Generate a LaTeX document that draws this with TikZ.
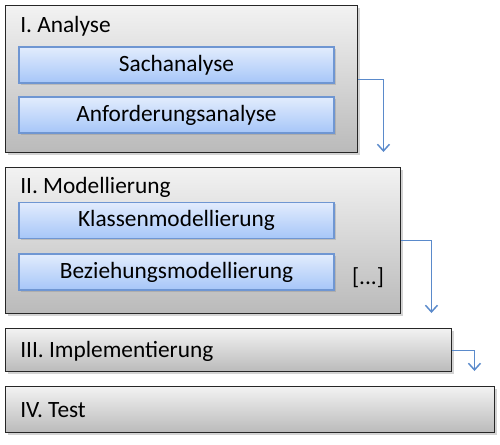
\documentclass[tikz,border=0pt]{standalone}
\usepackage{fontspec}
\setmainfont{Carlito}
\usetikzlibrary{positioning,arrows.meta,calc,shadows}

\definecolor{phaseborder}{HTML}{262626}
\definecolor{phasetop}{HTML}{F2F2F2}
\definecolor{phasebottom}{HTML}{BABABA}
\definecolor{taskborder}{HTML}{6F96D2}
\definecolor{tasktop}{HTML}{E2ECFD}
\definecolor{taskbottom}{HTML}{A6C6F8}
\definecolor{flowblue}{HTML}{5A8ACB}

\begin{document}
\begin{tikzpicture}[x=0.75pt, y=-0.75pt, font=\fontsize{17.5}{21}\selectfont,
    phase/.style={draw=phaseborder, line width=1.1pt, top color=phasetop, bottom color=phasebottom,
        anchor=north west, inner sep=0pt,
        drop shadow={shadow xshift=1.5pt, shadow yshift=-1.5pt, opacity=0.35}},
    task/.style={draw=taskborder, line width=1pt, top color=tasktop, bottom color=taskbottom,
        minimum width=236.25pt, minimum height=27pt, inner sep=0pt,
        drop shadow={shadow xshift=1.2pt, shadow yshift=-1.2pt, opacity=0.3}},
    title/.style={anchor=base west, inner sep=0pt},
    flow/.style={draw=flowblue, line width=1.1pt, -{Straight Barb[length=5pt, width=9pt]}}]

    \useasboundingbox (0,0) rectangle (500,444);

    % phases
    \node[phase, minimum width=264pt, minimum height=110.25pt] (analyse) at (5,5) {};
    \node[phase, minimum width=296.25pt, minimum height=109.5pt] (modell) at (5,167) {};
    \node[phase, minimum width=334.5pt, minimum height=32.25pt] (impl) at (5,328) {};
    \node[phase, minimum width=366.75pt, minimum height=34.5pt] (test) at (5,386) {};

    \node[title] (analysetitle) at (20,32) {I. Analyse};
    \node[title] (modelltitle) at (20,193) {II. Modellierung};
    \node[title] (impltitle) at (20,357) {III. Implementierung};
    \node[title] (testtitle) at (20,417) {IV. Test};

    % tasks
    \node[task] (sach) at (176.5,65) {Sachanalyse};
    \node[task] (anford) at (176.5,115) {Anforderungsanalyse};
    \node[task] (klassen) at (176.5,220.5) {Klassenmodellierung};
    \node[task] (bezieh) at (176.5,272) {Beziehungsmodellierung};
    \node (more) at (368,278) {[...]};

    % flow arrows
    \draw[flow] (analyse.east) -| ($(analyse.east |- modell.north)+(25,-15)$);
    \draw[flow] (modell.east) -| ($(modell.east |- impl.north)+(30,-15)$);
    \draw[flow] (impl.east) -| ($(impl.east |- test.north)+(22,-15)$);
\end{tikzpicture}
\end{document}
